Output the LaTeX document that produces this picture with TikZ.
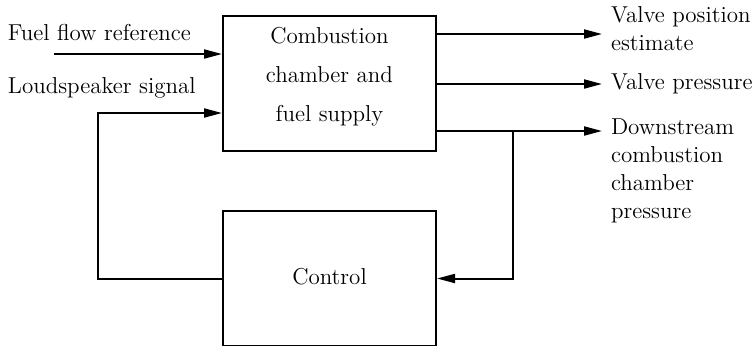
\documentclass[tikz,border=0pt]{standalone}
\usepackage{amsmath,amssymb}
\usetikzlibrary{arrows.meta}
\usetikzlibrary{calc}
\usetikzlibrary{positioning}

\tikzset{
  block/.style={draw, minimum width=106.5pt, minimum height=67.5pt, align=center, font=\fontsize{11.5}{19.5}\selectfont},
  sig/.style={align=left, inner sep=4pt, font=\fontsize{11.5}{14}\selectfont},
}

\begin{document}
\begin{tikzpicture}[x=0.5pt,y=-0.5pt, line width=1pt, >={Triangle[length=9pt,width=4.5pt]}]
      \useasboundingbox (0,0) rectangle (755,345);

      \node[block, text depth=9.5pt] (plant) at (329.5,83.5) {Combustion\\chamber and\\fuel supply};
      \node[block, below=29pt of plant, text depth=2pt] (ctrl) {Control};

      \node[sig, anchor=west] (fuelref) at (-1,33) {Fuel flow reference};
      \node[sig, anchor=west] (speaker) at (-1,88) {Loudspeaker signal};
      \node[sig, anchor=west] (valvepos) at (602,29) {Valve position\\estimate};
      \node[sig, anchor=west] (valvepr) at (602,84) {Valve pressure};
      \node[sig, anchor=north west] (down) at (602,110) {Downstream\\combustion\\chamber\\pressure};

      \coordinate (fin) at (54,54);
      \coordinate (loop) at (98,113);
      \coordinate (out1) at (436,34);
      \coordinate (out2) at (436,84);
      \coordinate (out3) at (436,131);
      \coordinate (tap) at (513,131);

      \draw[->] (fin) -- (plant.west |- fin);
      \draw[->] (ctrl.west) -| (loop) -- (plant.west |- loop);

      \draw[->] (out1) -- (valvepos.west |- out1);
      \draw[->] (out2) -- (valvepr.west |- out2);
      \draw[->] (out3) -- (down.west |- out3);

      \draw[->] (tap) |- (ctrl.east);
\end{tikzpicture}
\end{document}
